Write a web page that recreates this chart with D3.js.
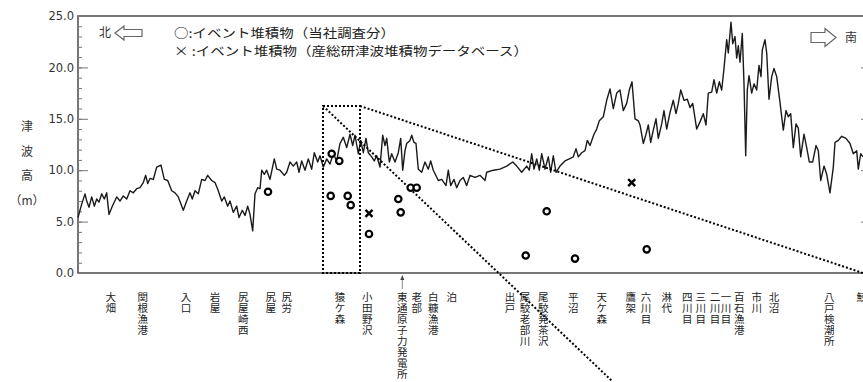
<!DOCTYPE html>
<html><head><meta charset="utf-8">
<script src="https://cdn.jsdelivr.net/npm/d3@7"></script>
<style>body{margin:0;background:#fff}svg{display:block}</style>
</head><body><svg id="c" width="863" height="382"></svg>
<script>
// Tsunami height profile along the coast [distance km from left edge, height m]
const profile = [[0,5.4],[0.37,6.7],[0.7,7.7],[0.87,7.0],[1.1,6.4],[1.37,7.4],[1.63,6.5],[1.87,7.2],[2.1,6.9],[2.37,7.7],[2.63,7.2],[2.87,7.8],[3.1,5.7],[3.43,6.5],[3.87,7.4],[4.2,7.0],[4.53,7.5],[4.87,7.2],[5.2,8.0],[5.53,7.8],[5.87,8.2],[6.2,8.3],[6.53,8.8],[6.77,9.5],[6.97,8.7],[7.2,9.2],[7.53,9.1],[7.87,10.3],[8.3,10.5],[8.63,9.1],[8.97,9.0],[9.37,8.0],[9.7,7.8],[10.03,7.4],[10.53,6.1],[10.87,7.0],[11.2,7.8],[11.43,7.2],[11.7,8.0],[12.03,7.7],[12.37,9.1],[12.7,9.0],[12.97,9.5],[13.37,9.0],[13.7,8.8],[14.03,8.0],[14.37,7.0],[14.63,7.4],[14.97,6.5],[15.2,7.0],[15.53,5.9],[15.87,6.5],[16.1,5.4],[16.43,6.1],[16.7,5.6],[16.97,6.5],[17.2,5.7],[17.47,4.1],[17.7,7.7],[17.97,8.3],[18.2,8.2],[18.37,10.0],[18.63,9.6],[18.87,10.0],[19.2,9.1],[19.63,11.1],[19.87,10.1],[20.2,10.0],[20.63,9.5],[20.87,9.8],[21.2,10.8],[21.53,10.4],[21.87,10.8],[22.1,9.8],[22.37,10.9],[22.7,10.0],[23.03,11.1],[23.37,10.1],[23.63,11.7],[23.97,10.8],[24.2,11.4],[24.53,10.3],[24.87,11.1],[25.2,10.6],[25.53,11.6],[25.87,10.9],
[26.2,12.6],[26.53,13.2],[26.87,12.2],[27.2,13.5],[27.47,12.4],[27.7,13.4],[28.03,11.6],[28.27,12.9],[28.53,11.7],[28.8,13.1],[29.03,11.7],[29.37,11.3],[29.63,10.9],[29.87,11.4],[30.2,10.3],[30.47,13.4],[30.7,12.4],[30.87,13.1],[31.13,10.8],[31.37,11.6],[31.7,10.8],[32.03,11.7],[32.27,13.1],[32.47,10.0],[32.7,11.9],[32.87,12.6],[33.2,12.9],[33.37,13.4],[33.6,12.7],[33.8,12.6],[34.03,10.1],[34.37,9.8],[34.7,10.8],[35.03,10.1],[35.27,10.9],[35.53,10.0],[36.03,9.0],[36.37,9.1],[36.8,8.5],[37.03,10.0],[37.27,8.5],[37.6,9.1],[37.87,8.3],[38.2,9.0],[38.53,9.3],[38.87,8.5],[39.2,9.5],[39.7,9.3],[40.2,9.5],[40.7,9.0],[40.87,9.8],[41.53,10.0],[42.2,10.1],[42.87,10.4],[43.47,10.8],[43.87,10.4],[44.37,9.8],[44.87,10.4],[45.13,10.0],[45.37,11.6],[45.6,10.1],[45.87,11.1],[46.13,10.0],[46.37,11.6],[46.7,10.1],[47.03,11.3],[47.27,9.8],[47.53,11.4],[47.8,9.8],[48.2,10.4],[48.7,10.9],[49.13,11.1],[49.53,11.3],[49.8,12.1],[50.03,11.3],[50.37,11.7],[50.7,11.9],[50.93,12.9],[51.2,12.4],[51.6,13.5],[51.87,14.0],[52.13,14.8],
[52.53,15.2],[52.87,16.8],[53.2,17.9],[53.53,16.0],[53.87,17.5],[54.2,17.8],[54.53,15.8],[54.87,16.5],[55.13,17.8],[55.4,18.6],[55.7,15.0],[56.03,14.8],[56.2,14.4],[56.53,12.6],[56.8,13.5],[57.03,14.4],[57.27,12.7],[57.53,13.9],[57.8,15.0],[58.03,13.1],[58.37,14.5],[58.6,15.8],[58.87,14.0],[59.2,15.6],[59.53,16.8],[59.8,15.5],[60.03,16.5],[60.27,17.8],[60.6,16.8],[60.93,16.9],[61.2,16.1],[61.47,16.5],[61.87,14.0],[62.2,14.7],[62.53,15.5],[62.8,14.4],[63.03,17.5],[63.37,17.6],[63.6,18.8],[63.87,17.5],[64.13,18.6],[64.37,17.8],[64.6,19.9],[64.87,22.7],[65.03,21.4],[65.3,24.4],[65.47,22.3],[65.7,23.0],[65.87,20.9],[66.03,22.1],[66.2,20.5],[66.43,23.3],[66.6,18.4],[66.77,11.4],[66.93,17.8],[67.1,19.2],[67.37,17.5],[67.6,18.4],[67.87,17.8],[68.1,20.2],[68.3,19.1],[68.43,21.7],[68.7,22.7],[68.87,21.4],[69.1,16.9],[69.37,19.1],[69.6,19.9],[69.87,19.1],[70.2,16.6],[70.53,13.9],[70.8,15.8],[71.03,15.2],[71.27,15.5],[71.53,12.2],[71.8,14.5],[72.03,14.1],[72.27,11.3],[72.6,13.5],[72.87,12.2],[73.13,10.8],[73.47,10.8],[73.8,12.4],[74.03,11.9],[74.27,9.0],[74.6,10.4],[74.87,9.6],[75.2,7.8],[75.53,10.3],[75.7,12.7],[76.03,12.9],[76.37,13.3],[76.8,13.1],[77.2,12.6],[77.53,11.6],[77.87,11.9],[78.03,10.1],[78.27,11.6],[78.5,11.3]];

// Event deposits (company survey) — circles
const surveyKm = [19.0, 25.37, 26.13, 25.27, 26.97, 27.27, 29.1, 32.03, 32.27, 33.27, 33.87, 44.77, 46.87, 49.7, 56.87];
const surveyM  = [7.9, 11.6, 10.9, 7.5, 7.5, 6.6, 3.8, 7.2, 5.9, 8.3, 8.3, 1.7, 6.0, 1.4, 2.3];
// Event deposits (AIST tsunami deposit database) — crosses
const aistKm = [29.1, 55.37];
const aistM  = [5.8, 8.8];

// Station names along the coast
const stationNames = ["大畑","関根漁港","入口","岩屋","尻屋崎西","尻屋","尻労","猿ケ森","小田野沢","東通原子力発電所","老部","白糠漁港","泊","出戸","尾駮老部川","尾駮発茶沢","平沼","天ケ森","鷹架","六川目","淋代","四川目","三川目","二川目","一川目","百石漁港","市川","北沼","八戸検潮所","鮫"];
const stationKm = [3.27,6.47,10.8,13.7,16.53,19.27,20.87,26.2,28.93,32.43,33.87,35.53,37.37,43.2,44.7,46.53,49.53,52.37,55.27,56.8,58.87,60.93,62.27,63.7,64.8,66.13,67.87,69.6,75.13,78.37];

const yMajor = [0, 5, 10, 15, 20, 25];
const yMinor = d3.range(0, 26, 1);
const yTitle = ["津","波","高","（m）"];
const legendLines = ["○:イベント堆積物（当社調査分）", "× :イベント堆積物（産総研津波堆積物データベース）"];
// zoom box (distance range, height) and projection-line end points
const zoomBoxKm = [24.5, 28.2];
const zoomBoxTop = 16.25;
const zoomLineEnds = [[[28.2,16.25],[78.5,0]], [[24.5,16.25],[53.4,-10.5]]];
const plantKm = 32.43;

const svg = d3.select("#c");
const x = d3.scaleLinear().domain([0, 79.3]).range([78, 871]);
const y = d3.scaleLinear().domain([0, 25]).range([273, 16]);
const frame = "#555";

// frame
svg.append("rect").attr("x", x(0)).attr("y", y(25)).attr("width", x(79.3)-x(0)).attr("height", y(0)-y(25))
  .attr("fill","none").attr("stroke", frame).attr("stroke-width", 1.6);

// left axis: minor ticks, major ticks and labels
const gMinor = svg.append("g").attr("transform",`translate(${x(0)},0)`)
  .call(d3.axisLeft(y).tickValues(yMinor).tickSize(-4).tickFormat(""));
const gMajor = svg.append("g").attr("transform",`translate(${x(0)},0)`)
  .call(d3.axisLeft(y).tickValues(yMajor).tickSize(-10).tickPadding(4).tickFormat(d3.format(".1f")));
[gMinor, gMajor].forEach(g => { g.select(".domain").remove(); g.selectAll("line").attr("stroke", "#777").attr("stroke-width", 1); });
gMajor.selectAll("text").attr("font-family","DejaVu Sans, sans-serif").attr("font-size", 11.5).attr("fill","#333");
// right axis ticks
const gRight = svg.append("g").attr("transform",`translate(${x(79.3)},0)`)
  .call(d3.axisRight(y).tickValues(yMajor).tickSize(-10).tickFormat(""));
gRight.select(".domain").remove();
gRight.selectAll("line").attr("stroke","#777");

// y title
svg.append("g").selectAll("text").data(yTitle).join("text")
  .attr("x", 27).attr("y", (d,i) => 131 + i*24.5)
  .attr("text-anchor","middle").attr("font-family","Noto Sans CJK JP, sans-serif").attr("font-size", 12).attr("fill","#333")
  .text(d => d);

// profile line
svg.append("path").datum(profile)
  .attr("d", d3.line().x(d => x(d[0])).y(d => y(d[1])))
  .attr("fill","none").attr("stroke","#1a1a1a").attr("stroke-width", 1.4).attr("stroke-linejoin","round");

// zoom box & projection lines
const dot = {stroke:"#000", "stroke-width":2, "stroke-dasharray":"2,2", fill:"none"};
const box = svg.append("rect").attr("x", x(zoomBoxKm[0])).attr("y", y(zoomBoxTop))
  .attr("width", x(zoomBoxKm[1]) - x(zoomBoxKm[0])).attr("height", y(0) - y(zoomBoxTop));
Object.entries(dot).forEach(([k,v]) => box.attr(k, v));
zoomLineEnds.forEach(l => {
  const p = svg.append("line").attr("x1", x(l[0][0])).attr("y1", y(l[0][1])).attr("x2", x(l[1][0])).attr("y2", y(l[1][1]));
  Object.entries(dot).forEach(([k,v]) => p.attr(k, v));
});

// markers
svg.append("g").selectAll("circle").data(surveyKm).join("circle")
  .attr("cx", d => x(d)).attr("cy", (d,i) => y(surveyM[i])).attr("r", 3.2)
  .attr("fill","#fff").attr("stroke","#000").attr("stroke-width", 2.2);
const cs = 3.5;
svg.append("g").selectAll("path").data(aistKm).join("path")
  .attr("d", (d,i) => { const cx = x(d), cy = y(aistM[i]); return `M${cx-cs},${cy-cs}L${cx+cs},${cy+cs}M${cx-cs},${cy+cs}L${cx+cs},${cy-cs}`; })
  .attr("stroke","#000").attr("stroke-width", 2.4).attr("fill","none");

// station labels (vertical, one character per line)
const lab = svg.append("g").selectAll("text").data(stationNames).join("text")
  .attr("font-family","Noto Sans CJK JP, sans-serif").attr("font-size", 10.5).attr("fill","#222").attr("text-anchor","middle");
lab.each(function(name, i) {
  const t = d3.select(this);
  Array.from(name).forEach((ch, j) => {
    t.append("tspan").attr("x", x(stationKm[i])).attr("y", 301 + j*11).text(ch);
  });
});
// plant arrow
const px = x(plantKm);
svg.append("line").attr("x1", px).attr("x2", px).attr("y1", 289).attr("y2", 279).attr("stroke","#666").attr("stroke-width", 0.8);
svg.append("path").attr("d", `M${px-2},${280}L${px},${275}L${px+2},${280}Z`).attr("fill","#444");

// legend
svg.append("g").selectAll("text").data(legendLines).join("text")
  .attr("x", 174).attr("y", (d,i) => 38 + i*18)
  .attr("font-family","Noto Sans CJK JP, sans-serif").attr("font-size", 12.5).attr("fill","#222")
  .attr("textLength", (d,i) => i === 0 ? 221 : 354).attr("lengthAdjust","spacingAndGlyphs")
  .text(d => d);

// direction arrows
svg.append("text").attr("x", 105).attr("y", 37).attr("text-anchor","middle")
  .attr("font-family","Noto Sans CJK JP, sans-serif").attr("font-size", 12).attr("fill","#333").text("北");
svg.append("path").attr("d","M115,33L124,26L124,29.5L142,29.5L142,36.5L124,36.5L124,40Z")
  .attr("fill","#fff").attr("stroke","#666").attr("stroke-width",1.2);
svg.append("path").attr("d","M836,37.5L825,28.5L825,32.5L811,32.5L811,42.5L825,42.5L825,46.5Z")
  .attr("fill","#fff").attr("stroke","#666").attr("stroke-width",1.2);
svg.append("text").attr("x", 851).attr("y", 42).attr("text-anchor","middle")
  .attr("font-family","Noto Sans CJK JP, sans-serif").attr("font-size", 12).attr("fill","#333").text("南");
</script></body></html>
